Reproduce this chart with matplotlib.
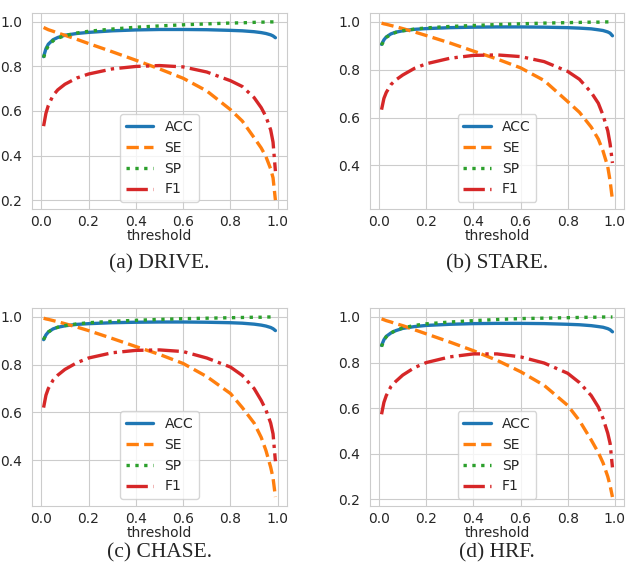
import matplotlib
matplotlib.use("Agg")
import seaborn as sns
from matplotlib import pyplot as plt

thresholds = [0.01, 0.02, 0.03, 0.05, 0.07, 0.1, 0.15, 0.2, 0.3, 0.4, 0.5,
              0.6, 0.7, 0.8, 0.85, 0.9, 0.93, 0.95, 0.97, 0.98, 0.99]

drive_acc = [0.844, 0.880, 0.900, 0.920, 0.930, 0.940, 0.948, 0.953, 0.960, 0.964, 0.966,
             0.966, 0.965, 0.962, 0.960, 0.956, 0.952, 0.948, 0.942, 0.937, 0.929]
drive_se = [0.975, 0.970, 0.965, 0.958, 0.950, 0.940, 0.922, 0.903, 0.866, 0.828, 0.789,
            0.747, 0.690, 0.606, 0.555, 0.480, 0.434, 0.395, 0.340, 0.300, 0.200]
drive_sp = [0.840, 0.872, 0.893, 0.915, 0.927, 0.938, 0.950, 0.958, 0.968, 0.976, 0.982,
            0.987, 0.991, 0.995, 0.996, 0.998, 0.999, 0.999, 1.0, 1.0, 1.0]
drive_f1 = [0.532, 0.590, 0.625, 0.670, 0.695, 0.720, 0.748, 0.766, 0.789, 0.800, 0.804,
            0.798, 0.775, 0.736, 0.710, 0.660, 0.615, 0.575, 0.515, 0.460, 0.330]

stare_acc = [0.906, 0.925, 0.937, 0.950, 0.957, 0.963, 0.969, 0.972, 0.976, 0.978, 0.979,
             0.979, 0.978, 0.976, 0.974, 0.971, 0.967, 0.964, 0.958, 0.953, 0.942]
stare_se = [0.995, 0.992, 0.990, 0.985, 0.980, 0.972, 0.958, 0.943, 0.912, 0.878, 0.845,
            0.808, 0.755, 0.667, 0.622, 0.560, 0.510, 0.460, 0.395, 0.335, 0.255]
stare_sp = [0.903, 0.922, 0.935, 0.948, 0.956, 0.963, 0.970, 0.975, 0.981, 0.985, 0.989,
            0.992, 0.995, 0.997, 0.998, 0.999, 0.999, 1.0, 1.0, 1.0, 1.0]
stare_f1 = [0.633, 0.680, 0.705, 0.738, 0.757, 0.778, 0.806, 0.825, 0.848, 0.860, 0.862,
            0.855, 0.834, 0.793, 0.760, 0.705, 0.660, 0.610, 0.545, 0.490, 0.410]

chase_acc = [0.905, 0.925, 0.937, 0.950, 0.957, 0.963, 0.969, 0.972, 0.976, 0.978, 0.979,
             0.979, 0.978, 0.976, 0.974, 0.970, 0.966, 0.962, 0.956, 0.951, 0.943]
chase_se = [0.995, 0.992, 0.990, 0.985, 0.980, 0.972, 0.958, 0.943, 0.910, 0.876, 0.843,
            0.805, 0.750, 0.679, 0.620, 0.555, 0.495, 0.440, 0.370, 0.325, 0.245]
chase_sp = [0.905, 0.925, 0.937, 0.950, 0.957, 0.964, 0.971, 0.976, 0.982, 0.986, 0.990,
            0.993, 0.995, 0.997, 0.998, 0.999, 0.999, 1.0, 1.0, 1.0, 1.0]
chase_f1 = [0.620, 0.672, 0.700, 0.735, 0.756, 0.780, 0.808, 0.828, 0.850, 0.860, 0.862,
            0.855, 0.828, 0.790, 0.755, 0.700, 0.650, 0.610, 0.555, 0.510, 0.395]

hrf_acc = [0.875, 0.900, 0.915, 0.930, 0.940, 0.950, 0.958, 0.963, 0.968, 0.971, 0.972,
           0.972, 0.971, 0.968, 0.966, 0.962, 0.958, 0.955, 0.949, 0.944, 0.935]
hrf_se = [0.992, 0.988, 0.984, 0.978, 0.971, 0.962, 0.944, 0.926, 0.890, 0.852, 0.810,
          0.760, 0.700, 0.612, 0.545, 0.460, 0.405, 0.360, 0.300, 0.260, 0.210]
hrf_sp = [0.870, 0.898, 0.913, 0.930, 0.941, 0.952, 0.963, 0.970, 0.978, 0.984, 0.989,
          0.993, 0.995, 0.997, 0.998, 0.999, 0.999, 1.0, 1.0, 1.0, 1.0]
hrf_f1 = [0.573, 0.625, 0.655, 0.695, 0.717, 0.745, 0.778, 0.800, 0.825, 0.838, 0.838,
          0.825, 0.798, 0.753, 0.712, 0.655, 0.605, 0.555, 0.490, 0.445, 0.340]

captions = ["(a) DRIVE.", "(b) STARE.", "(c) CHASE.", "(d) HRF."]
metric_names = ["ACC", "SE", "SP", "F1"]

panels = [
    (drive_acc, drive_se, drive_sp, drive_f1),
    (stare_acc, stare_se, stare_sp, stare_f1),
    (chase_acc, chase_se, chase_sp, chase_f1),
    (hrf_acc, hrf_se, hrf_sp, hrf_f1),
]

sns.set_style("whitegrid")
plt.rcParams["font.family"] = ["DejaVu Sans"]

colors = ["#1f77b4", "#ff7f0e", "#2ca02c", "#d62728"]
styles = ["-", "--", ":", "-."]

W, H = 626, 569
fig = plt.figure(figsize=(W / 100, H / 100), dpi=100)

# axes boxes in pixels: left, top, right, bottom
boxes = [(32, 13, 287, 209), (370, 13, 624, 209),
         (32, 308, 287, 506), (370, 308, 624, 506)]
caption_y = [264, 264, 553, 553]

for box, series, cap, cy in zip(boxes, panels, captions, caption_y):
    l, t, r, b = box
    ax = fig.add_axes([l / W, 1 - b / H, (r - l) / W, (b - t) / H])
    for vals, name, c, ls in zip(series, metric_names, colors, styles):
        ax.plot(thresholds, vals, color=c, linestyle=ls, linewidth=2.4, label=name)
    ax.set_xticks([0.0, 0.2, 0.4, 0.6, 0.8, 1.0])
    ax.tick_params(labelsize=10, colors="#262626")
    ax.tick_params(axis="x", pad=1)
    ax.set_xlabel("threshold", fontsize=10, labelpad=0, color="#262626")
    ax.legend(loc="lower center", fontsize=10, frameon=True)
    fig.text((l + r) / 2 / W, 1 - cy / H, cap, ha="center", va="center",
             family="Liberation Serif", fontsize=15.5)

fig.savefig("out.png", dpi=100)
